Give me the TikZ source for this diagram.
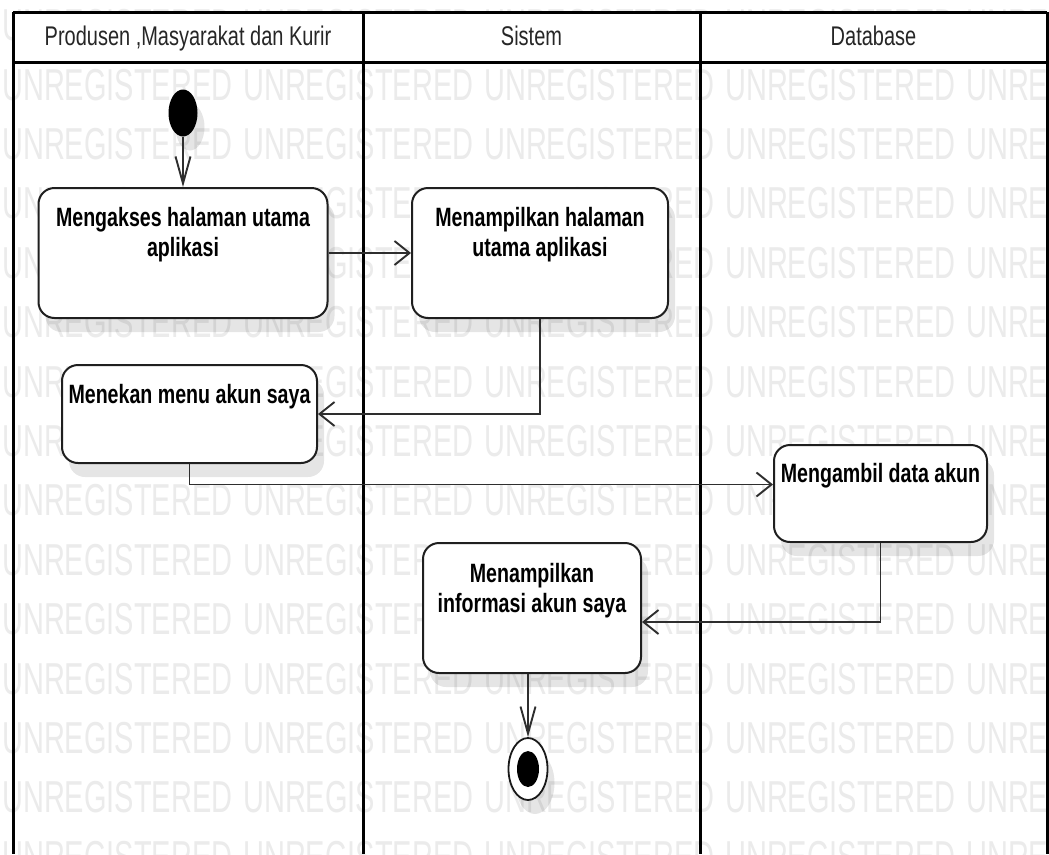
\documentclass[tikz,border=0pt]{standalone}
\usepackage{fontspec}
\setmainfont{Liberation Sans}[FakeStretch=0.74]
\newfontfamily\wmfont{Liberation Sans}[FakeStretch=0.648]
\usetikzlibrary{arrows.meta,shadows,shapes.geometric,calc}

\begin{document}
\begin{tikzpicture}[x=1pt,y=-1pt,
  wm/.style={font=\wmfont\fontsize{44.7}{44.7}\selectfont, text=black!8, inner sep=0pt, anchor=base west},
  lane/.style={line width=3pt, draw=black},
  hdr/.style={font=\fontsize{27}{30}\selectfont, inner sep=0pt, anchor=base, text=black!85},
  softshadow/.style={drop shadow={shadow xshift=7pt, shadow yshift=-14pt, fill=black, opacity=0.1}},
  actbox/.style={draw=black!88, line width=2pt, fill=white, rounded corners=16pt, inner sep=0pt, softshadow},
  acttext/.style={font=\bfseries\fontsize{26.5}{30}\selectfont, align=center, inner sep=0pt, anchor=north, text=black},
  flow/.style={line width=1.9pt, draw=black!82},
  harrow/.style={-{Straight Barb[length=15pt, width=24pt]}},
  varrow/.style={-{Straight Barb[length=27pt, width=15pt]}}
]
\useasboundingbox (0,0) rectangle (1049,854);
\fill[white] (0,0) rectangle (1049,854);

% background watermark rows
\foreach \k in {0,...,14}
  \foreach \j in {0,...,4}
    \node[wm] (wm-\k-\j) at ({2+241*\j}, {40.6+59.4*\k}) {UNREGISTERED};

% swimlane frame
\fill[white] (13,12) rectangle (1047,62);
\draw[lane] (13,12) -- (1047,12);
\draw[lane] (13,62) -- (1047,62);
\draw[lane] (13,12) -- (13,854);
\draw[lane] (363,12) -- (363,854);
\draw[lane] (700,12) -- (700,854);
\draw[lane] (1047,12) -- (1047,854);

\node[hdr] (h1) at (188,45) {Produsen ,Masyarakat dan Kurir};
\node[hdr] (h2) at (531.5,45) {Sistem};
\node[hdr] (h3) at (873.5,45) {Database};

% initial node
\node[ellipse, fill=black, minimum width=29pt, minimum height=47pt, inner sep=0pt, softshadow] (start) at (183,113) {};

% activities
\node[actbox, minimum width=289pt, minimum height=130pt] (b1) at (183,253) {};
\node[acttext] (b1t) at ([yshift=-20pt]b1.north) {Mengakses halaman utama\\aplikasi};

\node[actbox, minimum width=256pt, minimum height=130pt] (b2) at (540,253) {};
\node[acttext] (b2t) at ([yshift=-20pt]b2.north) {Menampilkan halaman\\utama aplikasi};

\node[actbox, minimum width=255pt, minimum height=98pt] (b3) at (189.5,414) {};
\node[acttext] (b3t) at ([yshift=-20pt]b3.north) {Menekan menu akun saya};

\node[actbox, minimum width=213pt, minimum height=97pt] (b4) at (880.5,493.5) {};
\node[acttext] (b4t) at ([yshift=-19pt]b4.north) {Mengambil data akun};

\node[actbox, minimum width=218pt, minimum height=130pt] (b5) at (532,608) {};
\node[acttext] (b5t) at ([yshift=-21pt]b5.north) {Menampilkan\\informasi akun saya};

% final node
\node[ellipse, draw=black!90, line width=1.8pt, fill=white, minimum width=39pt, minimum height=62pt, inner sep=0pt, softshadow] (end) at (528,769) {};
\node[ellipse, fill=black, minimum width=22pt, minimum height=36pt, inner sep=0pt] (endin) at (end.center) {};

% control flows
\draw[flow, varrow] (start.south) -- (start.south |- b1.north);
\draw[flow, harrow] (b1.east) -- (b2.west);
\draw[flow, harrow] (b2.south) |- (b3.east);
\draw[flow, harrow] (b3.south) |- ([yshift=9pt]b4.west);
\draw[flow, harrow] (b4.south) |- ([yshift=-14pt]b5.east);
\draw[flow, varrow] (end.north |- b5.south) -- (end.north);
\end{tikzpicture}
\end{document}
